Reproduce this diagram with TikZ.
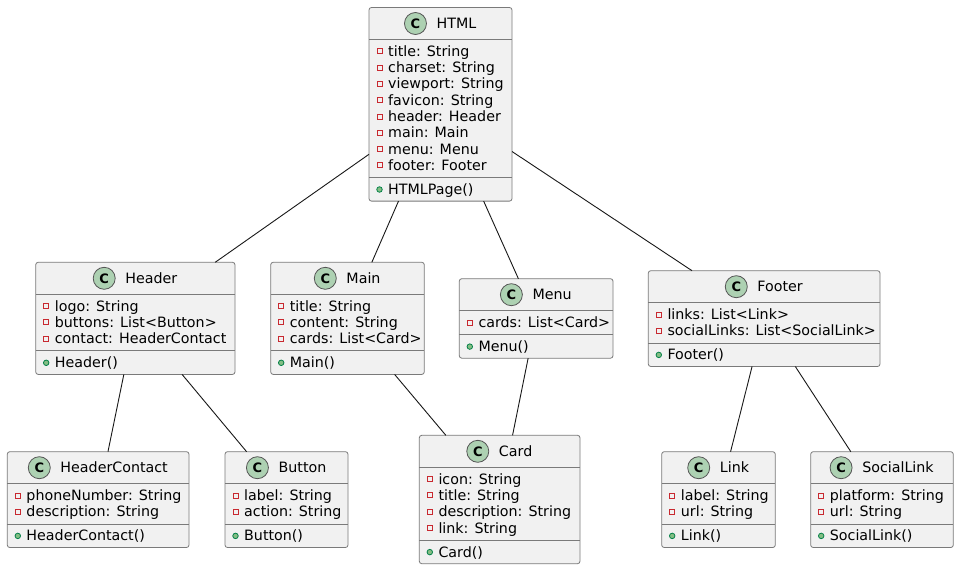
\documentclass[tikz,border=0pt]{standalone}
\usepackage{fontspec}
\setmainfont{DejaVu Sans}
\definecolor{boxfill}{HTML}{F1F1F1}
\definecolor{boxline}{HTML}{7A7A7A}
\definecolor{edgeline}{HTML}{181818}
\definecolor{spotline}{HTML}{555555}
\definecolor{spotfill}{HTML}{ADD1B2}
\definecolor{privred}{HTML}{C82930}
\definecolor{pubdark}{HTML}{038048}
\definecolor{publight}{HTML}{84BE84}
\tikzset{
  classbox/.style={rectangle, draw=boxline, fill=boxfill, line width=0.8pt, rounded corners=2.5pt, inner sep=0pt, outer sep=0pt},
  sepline/.style={draw=boxline, line width=0.8pt},
  membertext/.style={anchor=west, inner sep=0pt, text height=10pt, text depth=0pt, font=\fontsize{14.25}{16}\selectfont},
  titletext/.style={anchor=center, inner sep=0pt, text height=10pt, text depth=0pt, font=\fontsize{14.25}{16}\selectfont},
  spot/.style={circle, draw=spotline, fill=spotfill, line width=0.8pt, minimum size=22pt, inner sep=0pt, font=\fontsize{13}{13}\selectfont\bfseries},
  privicon/.style={rectangle, draw=privred, line width=0.9pt, minimum size=5pt, inner sep=0pt},
  pubicon/.style={circle, draw=pubdark, fill=publight, line width=0.8pt, minimum size=5.5pt, inner sep=0pt},
  edge/.style={draw=edgeline, line width=0.9pt},
}
\newcommand\umlclass[8]{%
  \pgfmathsetmacro\uSa{#3+32}%
  \pgfmathsetmacro\uSb{#3+32+#5*16.3+7.6}%
  \pgfmathsetmacro\uBot{\uSb+23.6}%
  \pgfmathsetmacro\uW{#4-#2}%
  \pgfmathsetmacro\uH{\uBot-#3}%
  \node[classbox, minimum width=\uW pt, minimum height=\uH pt] (#1) at ({(#2+#4)/2},{(#3+\uBot)/2}) {};
  \draw[sepline] (#2,\uSa) -- (#4,\uSa);
  \draw[sepline] (#2,\uSb) -- (#4,\uSb);
  \node[titletext] (#1-name) at ({(#2+#4)/2+16},{#3+16}) {#6};
  \node[spot] (#1-spot) at ([xshift=-21pt]#1-name.west) {C};
  \foreach \attr [count=\i] in {#7} {%
    \pgfmathsetmacro\uY{\uSa+11.8+(\i-1)*16.3}%
    \node[privicon] (#1-v\i) at (#2+10.5,\uY) {};
    \node[membertext] (#1-a\i) at (#2+19,\uY) {\attr};
  }
  \pgfmathsetmacro\uY{\uSb+12}%
  \node[pubicon] (#1-u) at (#2+10.5,\uY) {};
  \node[membertext] (#1-m) at (#2+19,\uY) {#8};
}
\begin{document}
\begin{tikzpicture}[x=1pt,y=-1pt]
\useasboundingbox (0,0) rectangle (959,570);
\fill[white] (0,0) rectangle (959,570);
\umlclass{html}{369}{7.5}{512}{8}{HTML}{title: String,charset: String,viewport: String,favicon: String,header: Header,main: Main,menu: Menu,footer: Footer}{HTMLPage()}
\umlclass{header}{35.7}{262.3}{235}{3}{Header}{logo: String,buttons: List<Button>,contact: HeaderContact}{Header()}
\umlclass{main}{270.7}{262.3}{424.3}{3}{Main}{title: String,content: String,cards: List<Card>}{Main()}
\umlclass{menu}{459.3}{278.7}{613}{1}{Menu}{cards: List<Card>}{Menu()}
\umlclass{footer}{648.3}{270.7}{880}{2}{Footer}{links: List<Link>,socialLinks: List<SocialLink>}{Footer()}
\umlclass{hc}{7.3}{451.7}{189}{2}{HeaderContact}{phoneNumber: String,description: String}{HeaderContact()}
\umlclass{button}{225}{451.7}{348}{2}{Button}{label: String,action: String}{Button()}
\umlclass{card}{419.3}{435.3}{580}{4}{Card}{icon: String,title: String,description: String,link: String}{Card()}
\umlclass{link}{661.7}{451.7}{775.3}{2}{Link}{label: String,url: String}{Link()}
\umlclass{social}{810.7}{451.7}{953.3}{2}{SocialLink}{platform: String,url: String}{SocialLink()}
\draw[edge] (html) -- (header);
\draw[edge] (html) -- (main);
\draw[edge] (html) -- (menu);
\draw[edge] (html) -- (footer);
\draw[edge] (header) -- (hc);
\draw[edge] (header) -- (button);
\draw[edge] (main) -- (card);
\draw[edge] (menu) -- (card);
\draw[edge] (footer) -- (link);
\draw[edge] (footer) -- (social);
\end{tikzpicture}
\end{document}
